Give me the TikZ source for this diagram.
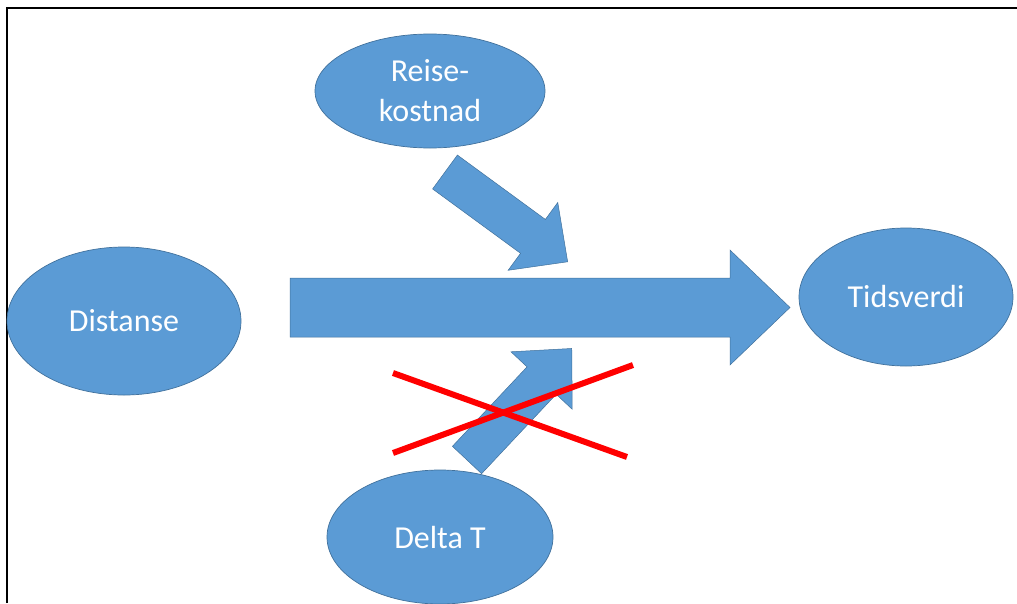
\documentclass[tikz,border=0pt]{standalone}
\usepackage{fontspec}
\setmainfont{Carlito}
\usetikzlibrary{shapes.geometric}

\definecolor{pblue}{HTML}{5B9BD5}
\definecolor{pedge}{HTML}{41719C}

\tikzset{
  oval/.style={ellipse, fill=pblue, draw=pedge, line width=0.7pt, text=white,
    font=\fontsize{32}{40}\selectfont, align=center, inner sep=0pt},
  blk/.style={fill=pblue, draw=pedge, line width=0.5pt},
  cross/.style={red, line width=6pt}
}

% block arrow: start, angle, length, shaft half width, head half width, head length
\newcommand{\blockarrow}[6]{%
  \draw[blk, shift={(#1)}, rotate=#2] (0,-#4) -- ({#3-#6},-#4) -- ({#3-#6},-#5) -- (#3,0)
    -- ({#3-#6},#5) -- ({#3-#6},#4) -- (0,#4) -- cycle;}

\begin{document}
\begin{tikzpicture}[x=1pt,y=-1pt]
        \useasboundingbox (0,0) rectangle (1017,603);
        \draw[line width=2pt] (7,603) -- (7,8) -- (1017,8);

        \node[oval, minimum width=230, minimum height=114] (reise) at (430,91) {Reise-\\kostnad};
        \node[oval, minimum width=234, minimum height=148] (dist) at (124,321) {Distanse};
        \node[oval, minimum width=214, minimum height=138] (tid) at (906,297) {Tidsverdi};
        \node[oval, minimum width=226, minimum height=134] (delta) at (440,537) {Delta T};

        \coordinate (mainstart) at (290,307.5);
        \coordinate (topstart) at (445,172);
        \coordinate (botstart) at (467,460);

        \blockarrow{mainstart}{0}{500}{29.5}{57.5}{60}
        \blockarrow{topstart}{-36.2}{152}{21}{42}{43}
        \blockarrow{botstart}{46.8}{153}{20}{42}{44}

        \coordinate (xa) at (393,373);
        \coordinate (xb) at (627,457);
        \coordinate (xc) at (393,453);
        \coordinate (xd) at (633,365);
        \draw[cross] (xa) -- (xb);
        \draw[cross] (xc) -- (xd);
    \end{tikzpicture}
\end{document}
